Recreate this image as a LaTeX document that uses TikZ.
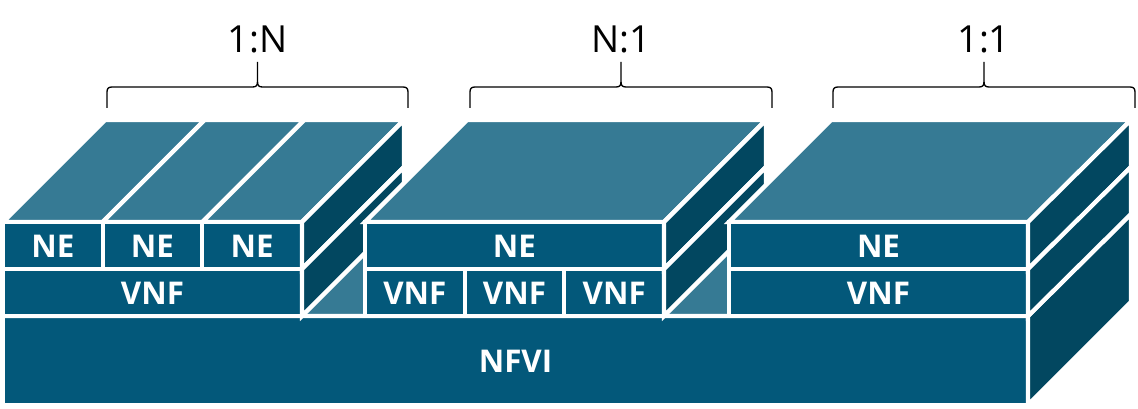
\documentclass[tikz,border=0pt]{standalone}
\usepackage{fontspec}
\setmainfont{Open Sans}
\definecolor{topc}{RGB}{54,122,148}
\definecolor{frontc}{RGB}{3,88,122}
\definecolor{sidec}{RGB}{2,71,96}
\tikzset{
  face/.style={line width=3.2pt, draw=white, line join=miter},
  topf/.style={face, fill=topc},
  frontf/.style={face, fill=frontc},
  sidef/.style={face, fill=sidec},
  lbl/.style={text=white, inner sep=0pt, font=\fontsize{23.5}{23.5}\selectfont\bfseries},
  ratio/.style={text=black, inner sep=0pt, font=\fontsize{28}{28}\selectfont},
  bracel/.style={draw=black, line width=1pt},
}
\newcommand\ratiobrace[3]{%
  \draw[bracel] (#1,108) -- (#1,92) .. controls (#1,88.5) and (#1+1.5,87) .. (#1+5,87)
     -- (#3-5,87) .. controls (#3-1.5,87) and (#3,85.5) .. (#3,82) -- (#3,62);
  \draw[bracel] (#2,108) -- (#2,92) .. controls (#2,88.5) and (#2-1.5,87) .. (#2-5,87)
     -- (#3+5,87) .. controls (#3+1.5,87) and (#3,85.5) .. (#3,82);
}
\begin{document}
\begin{tikzpicture}[x=0.75pt,y=-0.75pt]
\useasboundingbox (0,0) rectangle (1138,409);
% ---------- NFVI ----------
\fill[white] (0,0) rectangle (1138,409);
\draw[frontf] (3,316) rectangle (1028,405);
\draw[topf] (3,316) -- (1028,316) -- (1131,214) -- (105,214) -- cycle;
\draw[sidef] (1028,316) -- (1131,214) -- (1131,302) -- (1028,405) -- cycle;
\node[lbl] (nfvi) at (515.5,361) {NFVI};
% ---------- Group 1 (1:N) ----------
\draw[topf] (3,222) -- (102.67,222) -- (204.67,120) -- (105,120) -- cycle;
\draw[topf] (102.67,222) -- (202.33,222) -- (304.33,120) -- (204.67,120) -- cycle;
\draw[topf] (202.33,222) -- (302,222) -- (404,120) -- (304.33,120) -- cycle;
\draw[frontf] (3,222) rectangle (102.67,269);
\draw[frontf] (102.67,222) rectangle (202.33,269);
\draw[frontf] (202.33,222) rectangle (302,269);
\draw[frontf] (3,269) rectangle (302,316);
\draw[sidef] (302,222) -- (404,120) -- (404,167) -- (302,269) -- cycle;
\draw[sidef] (302,269) -- (404,167) -- (404,214) -- (302,316) -- cycle;
\node[lbl] (ne1a) at (52.8,246) {NE};
\node[lbl] (ne1b) at (152.5,246) {NE};
\node[lbl] (ne1c) at (252.2,246) {NE};
\node[lbl] (vnf1) at (152.5,293) {VNF};
% ---------- Group 2 (N:1) ----------
\draw[topf] (365,222) -- (664,222) -- (766,120) -- (467,120) -- cycle;
\draw[frontf] (365,222) rectangle (664,269);
\draw[frontf] (365,269) rectangle (464.67,316);
\draw[frontf] (464.67,269) rectangle (564.33,316);
\draw[frontf] (564.33,269) rectangle (664,316);
\draw[sidef] (664,222) -- (766,120) -- (766,167) -- (664,269) -- cycle;
\draw[sidef] (664,269) -- (766,167) -- (766,214) -- (664,316) -- cycle;
\node[lbl] (ne2) at (514.5,246) {NE};
\node[lbl] (vnf2a) at (414.8,293) {VNF};
\node[lbl] (vnf2b) at (514.5,293) {VNF};
\node[lbl] (vnf2c) at (614.2,293) {VNF};
% ---------- Group 3 (1:1) ----------
\draw[topf] (729,222) -- (1028,222) -- (1131,120) -- (831,120) -- cycle;
\draw[frontf] (729,222) rectangle (1028,269);
\draw[frontf] (729,269) rectangle (1028,316);
\draw[sidef] (1028,222) -- (1131,120) -- (1131,167) -- (1028,269) -- cycle;
\draw[sidef] (1028,269) -- (1131,167) -- (1131,214) -- (1028,316) -- cycle;
\node[lbl] (ne3) at (878.5,246) {NE};
\node[lbl] (vnf3) at (878.5,293) {VNF};
% ---------- Braces and ratios ----------
\ratiobrace{107}{408}{257.5}
\ratiobrace{470}{772}{621}
\ratiobrace{833}{1135}{984}
\node[ratio] (r1) at (257.5,39) {1:N};
\node[ratio] (r2) at (621,39) {N:1};
\node[ratio] (r3) at (984,39) {1:1};
\end{tikzpicture}
\end{document}
